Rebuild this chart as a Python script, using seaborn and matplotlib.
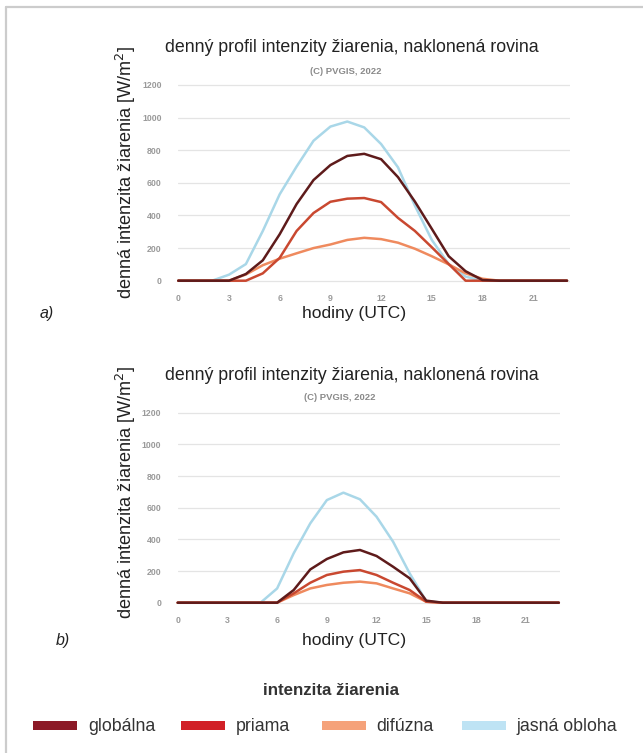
import numpy as np
import pandas as pd
import matplotlib
matplotlib.use("Agg")
import matplotlib.pyplot as plt
import seaborn as sns
from matplotlib.patches import Rectangle
from matplotlib.lines import Line2D

sns.set_theme(style="white")
plt.rcParams['font.family'] = ['Liberation Sans', 'DejaVu Sans']

# ---------------- data ----------------
hours = list(range(0, 24))

# panel a)
a_global = [0, 0, 0, 0, 41, 125, 285, 470, 617, 709, 765, 778, 745, 635, 485, 318, 150, 58, 4, 0, 0, 0, 0, 0]
a_direct = [0, 0, 0, 0, 0, 45, 140, 305, 415, 484, 503, 507, 482, 385, 305, 205, 102, 0, 0, 0, 0, 0, 0, 0]
a_diffuse = [0, 0, 0, 0, 38, 95, 135, 168, 200, 222, 250, 263, 255, 233, 196, 150, 100, 45, 12, 0, 0, 0, 0, 0]
a_clear = [0, 0, 0, 37, 102, 305, 530, 700, 858, 945, 976, 940, 838, 695, 460, 250, 102, 25, 0, 0, 0, 0, 0, 0]

# panel b)
b_global = [0, 0, 0, 0, 0, 0, 0, 80, 210, 276, 318, 333, 295, 227, 154, 13, 0, 0, 0, 0, 0, 0, 0, 0]
b_direct = [0, 0, 0, 0, 0, 0, 0, 59, 126, 175, 196, 206, 175, 126, 80, 6, 0, 0, 0, 0, 0, 0, 0, 0]
b_diffuse = [0, 0, 0, 0, 0, 0, 0, 48, 90, 112, 126, 133, 122, 90, 59, 6, 0, 0, 0, 0, 0, 0, 0, 0]
b_clear = [0, 0, 0, 0, 0, 0, 90, 312, 501, 648, 695, 653, 543, 385, 185, 10, 0, 0, 0, 0, 0, 0, 0, 0]

series_names = ["globálna", "priama", "difúzna", "jasná obloha"]
xticks = [0, 3, 6, 9, 12, 15, 18, 21]
yticks = [0, 200, 400, 600, 800, 1000, 1200]

line_colors = {"jasná obloha": "#a9d7e8", "difúzna": "#ef8a5e",
               "priama": "#c94830", "globálna": "#5e1b1b"}
legend_colors = {"globálna": "#8c1a27", "priama": "#d12027",
                 "difúzna": "#f5a27a", "jasná obloha": "#bee3f4"}

title_txt = "denný profil intenzity žiarenia, naklonená rovina"
sub_txt = "(C) PVGIS, 2022"
ylabel_txt = "denná intenzita žiarenia [W/m$^2$]"
xlabel_txt = "hodiny (UTC)"

W, H = 643, 753
fig = plt.figure(figsize=(W / 100, H / 100), dpi=100)

def px_rect(x0, x1, y_top, y_bot):
    return [x0 / W, 1 - y_bot / H, (x1 - x0) / W, (y_bot - y_top) / H]

def make_df(g, d, f, c):
    df = pd.DataFrame({"hodina": hours, "globálna": g, "priama": d,
                       "difúzna": f, "jasná obloha": c})
    return df.melt(id_vars="hodina", var_name="typ", value_name="hodnota")

def draw_panel(rect, df, xmax):
    ax = fig.add_axes(rect)
    for v in yticks:
        ax.axhline(v, color="#e4e4e4", lw=0.9, zorder=0)
    order = ["jasná obloha", "difúzna", "priama", "globálna"]
    for name in order:
        sub = df[df["typ"] == name]
        sns.lineplot(data=sub, x="hodina", y="hodnota", ax=ax,
                     color=line_colors[name], lw=1.8, legend=False,
                     clip_on=False, zorder=3)
    ax.set_xlim(0, xmax)
    ax.set_ylim(-20, 1220)
    ax.set_xticks(xticks)
    ax.set_yticks(yticks)
    ax.set_xticklabels([str(t) for t in xticks], fontsize=6.3,
                       color="#9a9a9a", fontweight="bold")
    ax.set_yticklabels([str(t) for t in yticks], fontsize=6.3,
                       color="#9a9a9a", fontweight="bold")
    ax.tick_params(axis="x", length=3, color="#dddddd", pad=4, direction="out")
    ax.tick_params(axis="y", length=0, pad=12)
    for s in ax.spines.values():
        s.set_visible(False)
    ax.set_xlabel("")
    ax.set_ylabel("")
    ax.grid(False)
    return ax

# panel a: 0 at y=280.7, 1200 at y=85 ; x 0 at 178.3, 16.9 px/h
ppu_a = (280.7 - 85) / 1200
ax1 = draw_panel(px_rect(178.3, 178.3 + 23.2 * 16.9,
                         85 - 20 * ppu_a, 280.7 + 20 * ppu_a),
                 make_df(a_global, a_direct, a_diffuse, a_clear), 23.2)
# panel b: 0 at y=602.7, 1200 at 412.7 ; x 0 at 177.7, 16.57 px/h
ppu_b = (602.7 - 412.7) / 1200
ax2 = draw_panel(px_rect(177.7, 177.7 + 23.07 * 16.57,
                         412.7 - 20 * ppu_b, 602.7 + 20 * ppu_b),
                 make_df(b_global, b_direct, b_diffuse, b_clear), 23.07)

def ftext(x, y, s, **kw):
    fig.text(x / W, 1 - y / H, s, **kw)

# texts panel a
ftext(352, 48, title_txt, fontsize=12.8, ha="center", va="center", color="#222222")
ftext(346, 72, sub_txt, fontsize=6.8, ha="center", va="center", color="#8a8a8a", fontweight="bold")
ftext(126, 172, ylabel_txt, fontsize=13.1, ha="center", va="center", rotation=90, color="#222222")
ftext(354, 313, xlabel_txt, fontsize=12.6, ha="center", va="center", color="#222222")
ftext(47, 313, "a)", fontsize=11.5, ha="center", va="center", style="italic", color="#222222")

# texts panel b
ftext(352, 375, title_txt, fontsize=12.8, ha="center", va="center", color="#222222")
ftext(340, 398, sub_txt, fontsize=6.8, ha="center", va="center", color="#8a8a8a", fontweight="bold")
ftext(126, 492, ylabel_txt, fontsize=13.1, ha="center", va="center", rotation=90, color="#222222")
ftext(354, 640, xlabel_txt, fontsize=12.6, ha="center", va="center", color="#222222")
ftext(63, 640, "b)", fontsize=11.5, ha="center", va="center", style="italic", color="#222222")

# legend
ftext(331, 695, "intenzita žiarenia", fontsize=12.2, ha="center", va="baseline",
      fontweight="bold", color="#333333")
leg_patch_x = [33, 181, 322, 462]
leg_text_x = [88, 236, 376, 517]
for name, px, tx in zip(series_names, leg_patch_x, leg_text_x):
    fig.patches.append(Rectangle((px / W, 1 - 730 / H), 44 / W, 9 / H,
                                 transform=fig.transFigure,
                                 facecolor=legend_colors[name], edgecolor="none"))
    ftext(tx, 731, name, fontsize=12.8, ha="left", va="baseline", color="#333333")

# border frame
fig.add_artist(Line2D([6 / W, 6 / W], [0, 1 - 7 / H], transform=fig.transFigure,
                      color="#cccccc", lw=1.6))
fig.add_artist(Line2D([6 / W, 1], [1 - 7 / H, 1 - 7 / H], transform=fig.transFigure,
                      color="#cccccc", lw=1.6))

fig.savefig("out.png", dpi=100, facecolor="white")
